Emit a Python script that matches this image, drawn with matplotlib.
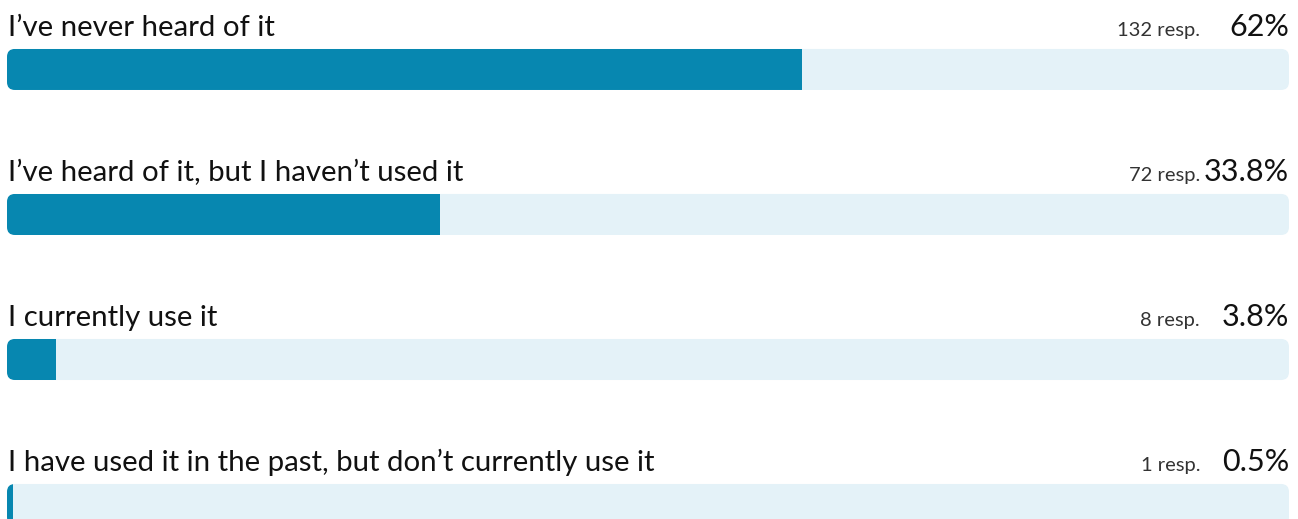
import matplotlib.pyplot as plt
from matplotlib.patches import FancyBboxPatch, Rectangle

# Survey answers, horizontal percentage bars

answers = ["I\u2019ve never heard of it",
           "I\u2019ve heard of it, but I haven\u2019t used it",
           "I currently use it",
           "I have used it in the past, but don\u2019t currently use it"]
responses = [132, 72, 8, 1]
percents = [62, 33.8, 3.8, 0.5]
pct_labels = ["62%", "33.8%", "3.8%", "0.5%"]

dark = "#0787b0"
light = "#e4f2f8"

plt.rcParams['font.family'] = ['Lato', 'DejaVu Sans']

fig = plt.figure(figsize=(12.98, 5.19), dpi=100)
# axis spans the bar track horizontally (px 7..1289), full height
ax = fig.add_axes([7 / 1298, 0, 1282 / 1298, 1])
ax.set_xlim(0, 100)
ax.set_ylim(3.1, -0.479)
ax.axis("off")

bar_h = 0.283
r = 0.62
asp = (1282 / 100) / 145
base = 0.228  # text baseline above bar centre

for i, (name, n, p, lab) in enumerate(zip(answers, responses, percents, pct_labels)):
    track = FancyBboxPatch((0, i - bar_h / 2), 100, bar_h,
                           boxstyle="round,pad=0,rounding_size=%g" % r,
                           mutation_aspect=asp, fc=light, ec="none")
    ax.add_patch(track)
    fill = Rectangle((0, i - bar_h / 2), p, bar_h, fc=dark, ec="none")
    ax.add_patch(fill)
    fill.set_clip_path(track)

    ax.text(0.05, i - base, name, fontsize=21.2, color="#111111",
            va="baseline", ha="left")
    ax.text(100, i - base, lab, fontsize=22, color="#111111",
            va="baseline", ha="right")
    ax.annotate("%d resp." % n, xy=(100, i - base), xytext=(-64, 0),
                textcoords="offset points", fontsize=14.5, color="#333333",
                va="baseline", ha="right")

fig.savefig("out.png", dpi=100)
